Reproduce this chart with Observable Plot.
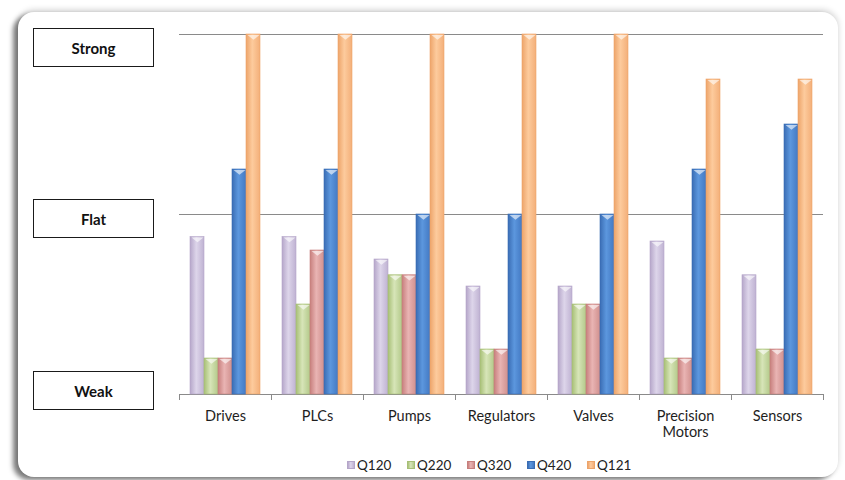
<!DOCTYPE html>
<html>
<head>
<meta charset="utf-8">
<script src="https://cdn.jsdelivr.net/npm/d3@7"></script>
<script src="https://cdn.jsdelivr.net/npm/@observablehq/plot@0.6"></script>
<style>
  html, body { margin: 0; padding: 0; background: #fff; width: 845px; height: 480px; overflow: hidden; font-family: Lato, "Open Sans", sans-serif; }
  #frame { position: absolute; left: 18px; top: 12px; width: 820px; height: 465px; border-radius: 16px; background: #fff;
           box-shadow: -5px 3px 5px rgba(0,0,0,.5), 0 -2px 6px rgba(0,0,0,.18); }
  #chart { position: absolute; left: 0; top: 0; }
  .level { position: absolute; left: 33px; width: 119px; height: 37px; border: 1.5px solid #1a1a1a; background: #fff;
           display: flex; align-items: center; justify-content: center; font-weight: bold; font-size: 15px; color: #111; }
  #legend { position: absolute; top: 457px; left: 347px; display: flex; font-size: 13.5px; color: #222; }
  #legend .item { display: flex; align-items: center; width: 60px; }
  #legend .sw { width: 8px; height: 8px; margin-right: 2px; box-sizing: border-box; }
</style>
</head>
<body>
<div id="frame"></div>
<div id="chart"></div>
<div id="legend"></div>
<script>
// Outlook per product line, quarter by quarter (0 = Weak, 4 = Flat, 8 = Strong)
const categories = ["Drives", "PLCs", "Pumps", "Regulators", "Valves", "Precision Motors", "Sensors"];
const series = ["Q120", "Q220", "Q320", "Q420", "Q121"];
const q120 = [3.5, 3.5, 3.0, 2.4, 2.4, 3.4, 2.65];
const q220 = [0.8, 2.0, 2.65, 1.0, 2.0, 0.8, 1.0];
const q320 = [0.8, 3.2, 2.65, 1.0, 2.0, 0.8, 1.0];
const q420 = [5, 5, 4, 4, 4, 5, 6];
const q121 = [8, 8, 8, 8, 8, 7, 7];
const levelLabels = ["Strong", "Flat", "Weak"];
const levelValues = [8, 4, 0];

const seriesValues = {Q120: q120, Q220: q220, Q320: q320, Q420: q420, Q121: q121};

// Cylinder-like shading for each quarter: left edge, highlight, right edge
const palette = {
  Q120: ["#b5a6c9", "#ddd5ea", "#bfb2d2"],
  Q220: ["#a7bf76", "#d7e5b8", "#b3c98a"],
  Q320: ["#c77f7d", "#e9b4b3", "#d0908e"],
  Q420: ["#3a6db4", "#5c97de", "#4379c3"],
  Q121: ["#eda46a", "#fdcb9d", "#f3af79"]
};

const rows = [];
categories.forEach((c, i) => {
  series.forEach(s => rows.push({category: c, series: s, value: seriesValues[s][i]}));
});

// Middle quarter of each group carries the group's label, centred under the group
const middleSeries = series[Math.floor(series.length / 2)];

// Flat, wide "notch" drawn at the top of each bar
const notch = {
  draw(ctx, size) {
    const r = Math.sqrt(size / Math.PI);
    ctx.moveTo(-r, 0);
    ctx.lineTo(r, 0);
    ctx.lineTo(0, r * 0.8);
    ctx.closePath();
  }
};

const plot = Plot.plot({
  width: 845,
  height: 440,
  marginLeft: 178,
  marginRight: 22,
  marginTop: 34,
  marginBottom: 46,
  style: {fontFamily: "Lato, 'Open Sans', sans-serif", fontSize: "14.5px", color: "#222", background: "transparent", overflow: "visible"},
  facet: {data: rows, x: "category"},
  fx: {domain: categories, padding: 0, axis: null},
  x: {domain: series, paddingInner: 0, paddingOuter: 0.78, axis: null},
  y: {domain: [0, 8], axis: null},
  color: {type: "identity"},
  marks: [
    Plot.ruleY(levelValues.filter(v => v > 0), {stroke: "#8a8a8a", strokeWidth: 1}),
    Plot.ruleY([0], {stroke: "#8a8a8a", strokeWidth: 1}),
    Plot.barY(rows, {
      x: "series", y: "value",
      fill: d => `url(#shade-${d.series})`,
      stroke: d => palette[d.series][0],
      strokeWidth: 0.6
    }),
    Plot.dot(rows, {
      x: "series", y: "value", symbol: notch, r: 6, dy: 0.5,
      fill: "white", fillOpacity: 0.6, stroke: "none"
    }),
    Plot.text(rows, {
      filter: d => d.series === middleSeries,
      x: "series", y: () => 0,
      text: d => d.category.replace(" ", "\n"),
      lineAnchor: "top", lineHeight: 1.12, dy: 15,
      fill: "#1e1e1e", fontSize: 14.5
    })
  ]
});

// Gradient definitions used by the bars
const svg = d3.select(plot);
const defs = svg.insert("defs", ":first-child");
series.forEach(s => {
  const g = defs.append("linearGradient").attr("id", `shade-${s}`)
    .attr("x1", "0%").attr("x2", "100%").attr("y1", "0%").attr("y2", "0%");
  g.append("stop").attr("offset", "0%").attr("stop-color", palette[s][0]);
  g.append("stop").attr("offset", "45%").attr("stop-color", palette[s][1]);
  g.append("stop").attr("offset", "100%").attr("stop-color", palette[s][2]);
});

// Category separators hanging below the baseline
const fx = plot.scale("fx");
const y0 = plot.scale("y").apply(0);
const edges = categories.map(c => fx.apply(c));
edges.push(fx.apply(categories[categories.length - 1]) + fx.bandwidth);
svg.append("g").selectAll("line").data(edges).join("line")
  .attr("x1", d => Math.round(d) + 0.5).attr("x2", d => Math.round(d) + 0.5)
  .attr("y1", y0).attr("y2", y0 + 6)
  .attr("stroke", "#8a8a8a");

document.getElementById("chart").appendChild(plot);

// Level boxes on the left
const boxTops = {Strong: 28, Flat: 199, Weak: 371};
levelLabels.forEach(l => {
  const div = document.createElement("div");
  div.className = "level";
  div.style.top = boxTops[l] + "px";
  div.textContent = l;
  document.body.appendChild(div);
});

// Legend
const legend = document.getElementById("legend");
series.forEach(s => {
  const item = document.createElement("div");
  item.className = "item";
  const sw = document.createElement("span");
  sw.className = "sw";
  sw.style.background = `linear-gradient(90deg, ${palette[s][0]}, ${palette[s][1]} 45%, ${palette[s][2]})`;
  sw.style.border = `1px solid ${palette[s][0]}`;
  const t = document.createElement("span");
  t.textContent = s;
  item.appendChild(sw);
  item.appendChild(t);
  legend.appendChild(item);
});
</script>
</body>
</html>
